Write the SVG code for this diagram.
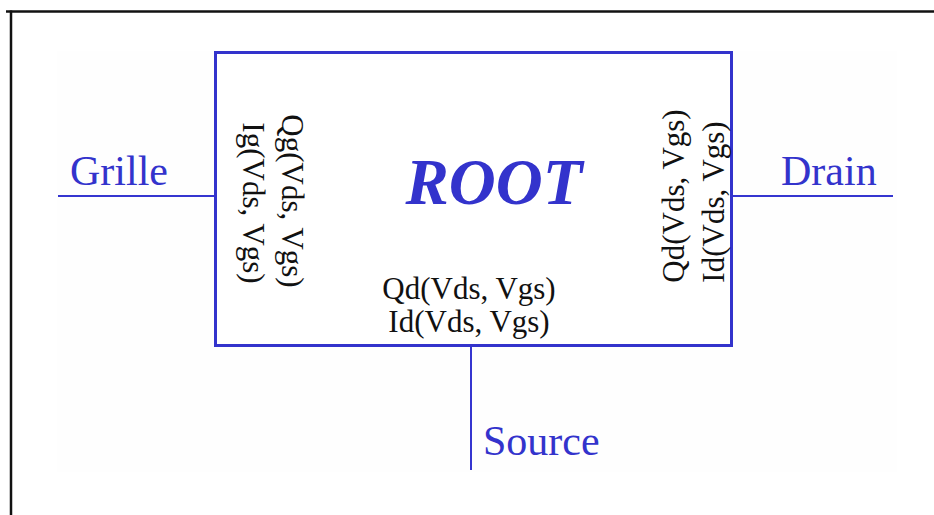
<svg xmlns="http://www.w3.org/2000/svg" width="934" height="515" viewBox="0 0 934 515">
<style>
.frame{stroke:#111;stroke-width:2.5;fill:none}
.wire{stroke:#3535d0;stroke-width:2;fill:none}
.box{stroke:#3333cc;stroke-width:3;fill:#ffffff}
.lbl{font-family:"Liberation Serif","Times New Roman",serif;font-size:42px;fill:#3333cc}
.fn{font-family:"Liberation Serif","Times New Roman",serif;font-size:31px;fill:#111}
.title{font-family:"Liberation Serif","Times New Roman",serif;font-size:65px;font-weight:bold;font-style:italic;fill:#3333cc}
</style>
<rect x="0" y="0" width="934" height="515" fill="#ffffff"/>
<g id="frame">
<line class="frame" x1="6" y1="11.5" x2="934" y2="11.5"/>
<line class="frame" x1="11" y1="10.5" x2="11" y2="515"/>
</g>
<rect x="57" y="51" width="840" height="421" fill="#fefefe"/>
<g id="connectors">
<line class="wire" x1="58" y1="196" x2="215" y2="196"/>
<line class="wire" x1="733" y1="196" x2="893" y2="196"/>
<line class="wire" x1="471" y1="346" x2="471" y2="470"/>
</g>
<g id="root">
<rect class="box" x="215.5" y="52.5" width="516" height="293"/>
<text class="title" x="494" y="204" text-anchor="middle">ROOT</text>
<text class="fn" x="469" y="299" text-anchor="middle">Qd(Vds, Vgs)</text>
<text class="fn" x="469" y="332" text-anchor="middle">Id(Vds, Vgs)</text>
<text class="fn" text-anchor="middle" transform="translate(282,201) rotate(90)">Qg(Vds, Vgs)</text>
<text class="fn" text-anchor="middle" transform="translate(243,203) rotate(90)">Ig(Vds, Vgs)</text>
<text class="fn" text-anchor="middle" transform="translate(684,196) rotate(-90)">Qd(Vds, Vgs)</text>
<text class="fn" text-anchor="middle" transform="translate(724,202) rotate(-90)">Id(Vds, Vgs)</text>
</g>
<g id="grille"><text class="lbl" x="70" y="185">Grille</text></g>
<g id="drain"><text class="lbl" x="781" y="185">Drain</text></g>
<g id="source"><text class="lbl" x="483" y="455">Source</text></g>
</svg>
